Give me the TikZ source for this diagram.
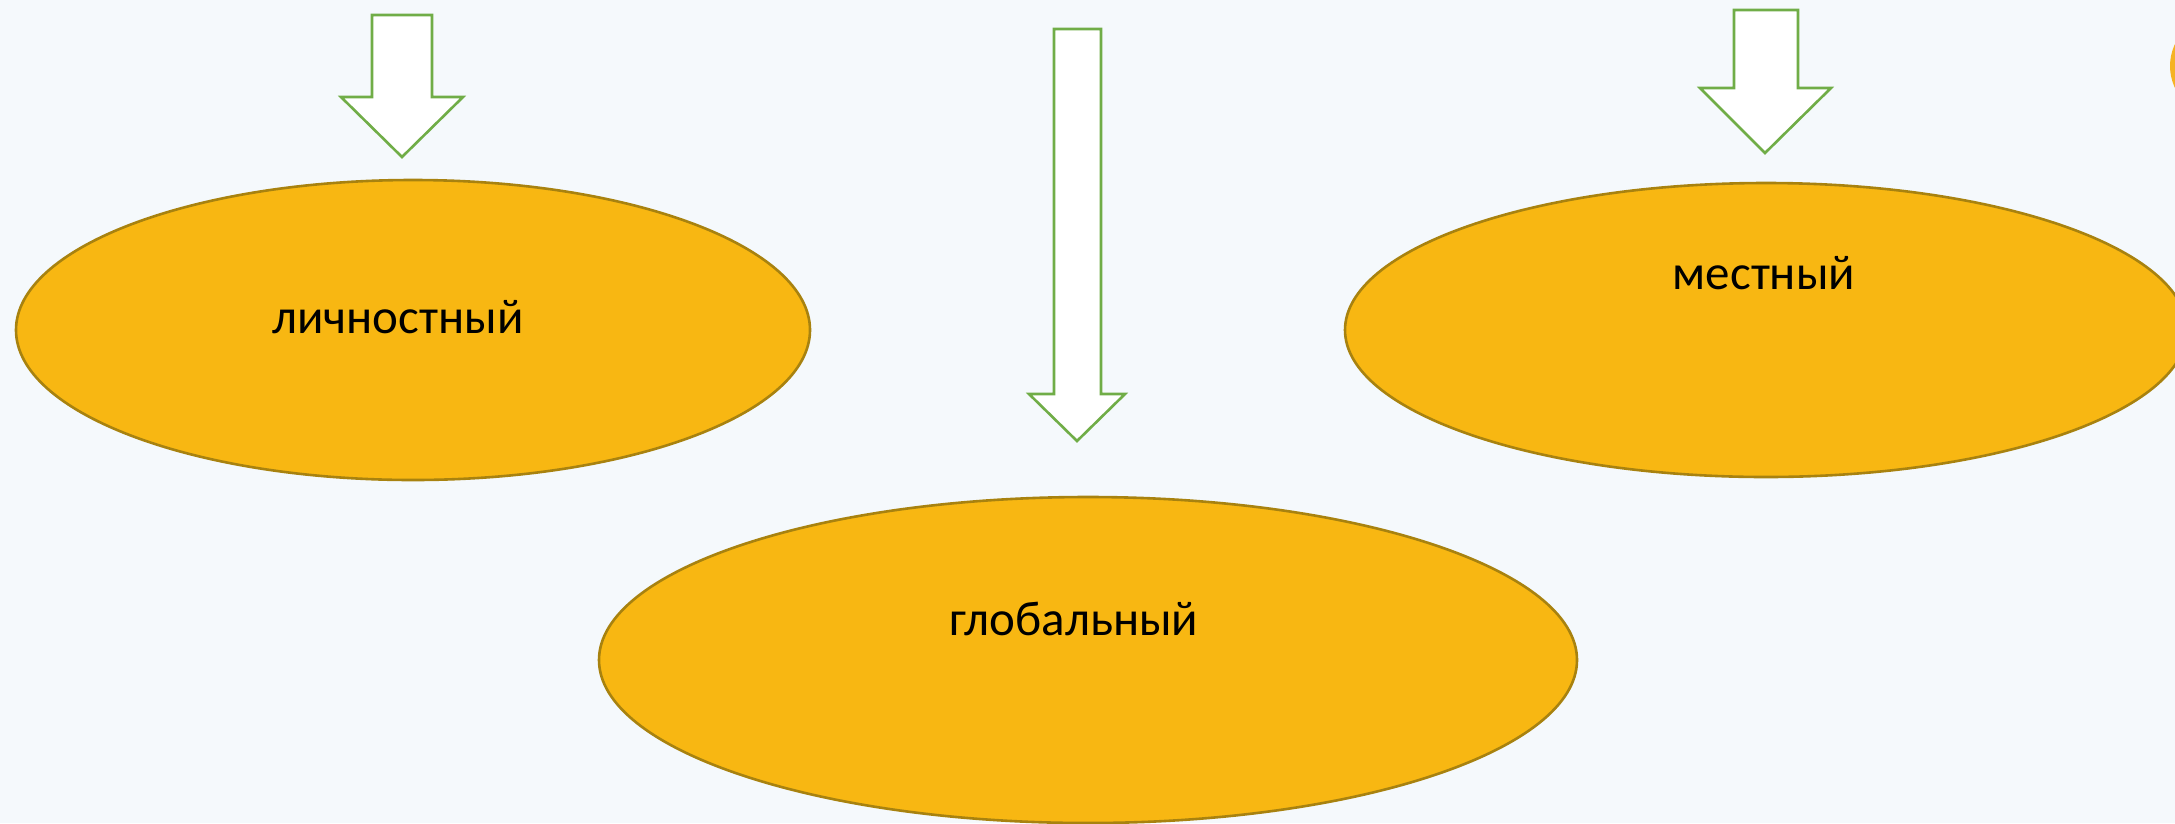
\documentclass[tikz,border=0pt]{standalone}
\usepackage{fontspec}
\setmainfont{Carlito}
\usetikzlibrary{shapes.geometric}
\definecolor{bgpale}{HTML}{F5F9FC}
\definecolor{ovalfill}{HTML}{F8B712}
\definecolor{ovaledge}{HTML}{A8820F}
\definecolor{arrowedge}{HTML}{70AD47}
\definecolor{dotfill}{HTML}{F5B324}
\tikzset{
  oval/.style={ellipse, draw=ovaledge, fill=ovalfill, line width=2.6pt, inner sep=0pt},
  label text/.style={anchor=base, inner sep=0pt, font=\fontsize{49}{58}\selectfont},
  blockarrow/.style={draw=arrowedge, fill=white, line width=2.6pt, line join=miter},
}
\begin{document}
\begin{tikzpicture}[x=1pt,y=-1pt]
\useasboundingbox (0,0) rectangle (2175,823);
\fill[bgpale] (0,0) rectangle (2175,823);
\begin{scope}
\clip (0,0) rectangle (2175,823);

% ovals
\node[oval, minimum width=794pt, minimum height=300pt] (personal) at (413,330) {};
\node[oval, minimum width=978pt, minimum height=326pt] (global) at (1088,660) {};
\node[oval, minimum width=842pt, minimum height=294pt] (local) at (1766,330) {};

% small disc at the top right
\fill[dotfill] (2221,66) circle (51);

% block arrows
\draw[blockarrow] (372,15) -- (432,15) -- (432,97) -- (463,97) -- (402,157)
  -- (341,97) -- (372,97) -- cycle;
\draw[blockarrow] (1054,29) -- (1101,29) -- (1101,394) -- (1125,394) -- (1077,441)
  -- (1029,394) -- (1054,394) -- cycle;
\draw[blockarrow] (1734,10) -- (1798,10) -- (1798,88) -- (1831,88) -- (1765,153)
  -- (1700,88) -- (1734,88) -- cycle;
\end{scope}

% labels
\node[label text] (tpersonal) at (398,333) {личностный};
\node[label text] (tlocal) at (1764,289) {местный};
\node[label text] (tglobal) at (1074,635) {глобальный};
\end{tikzpicture}
\end{document}
